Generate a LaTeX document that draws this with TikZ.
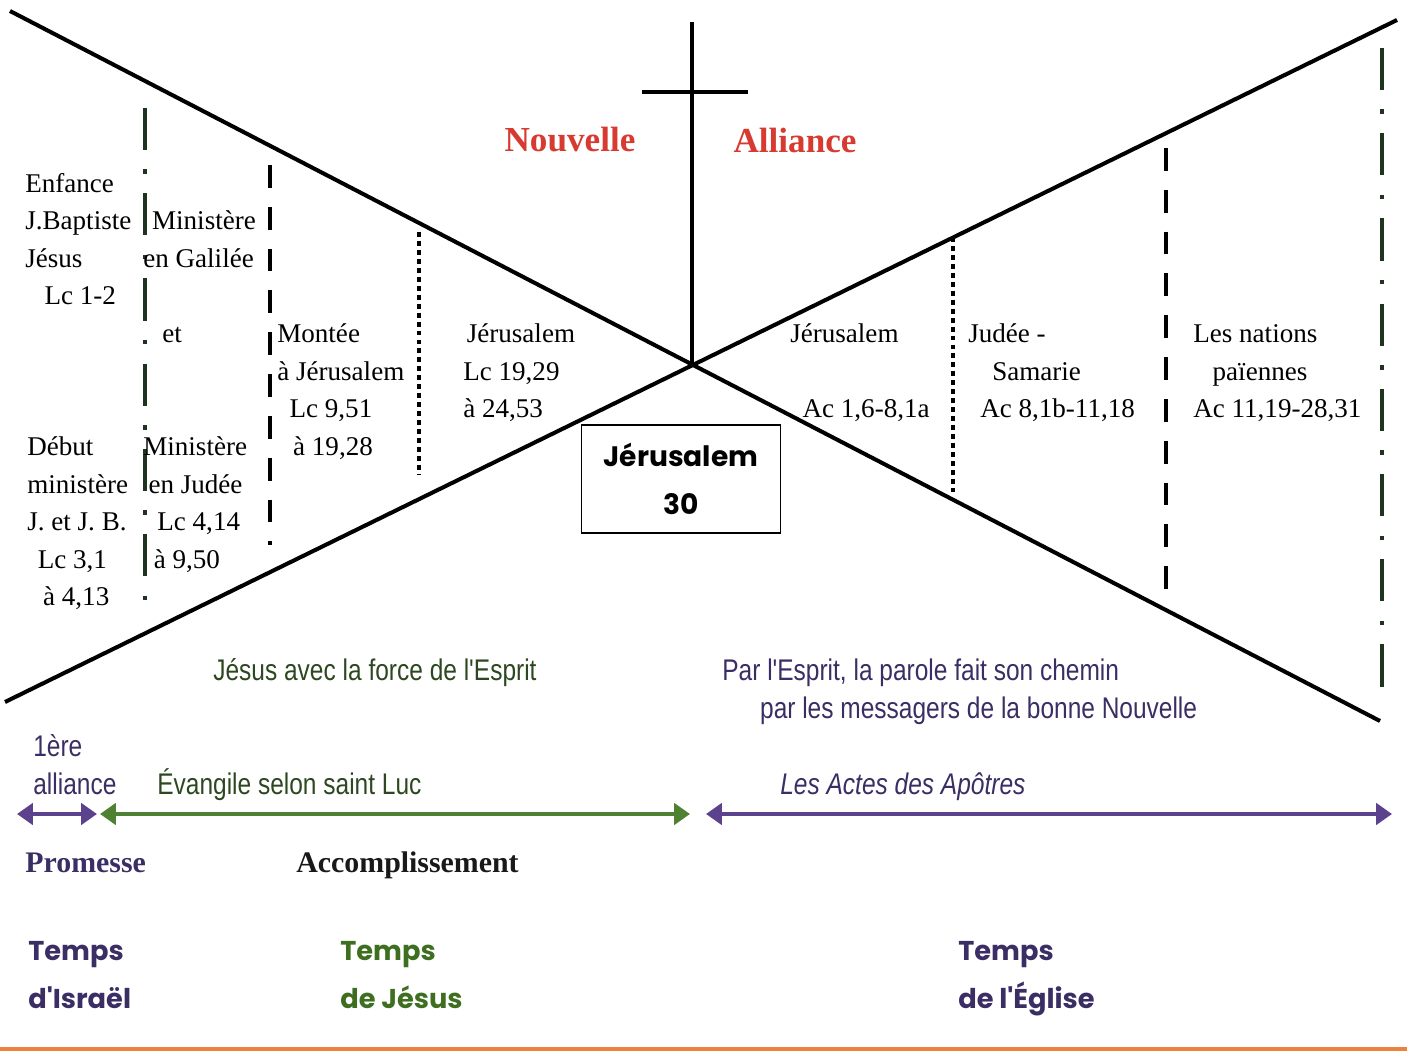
\documentclass[tikz,border=0pt]{standalone}
\usepackage{fontspec}
\setmainfont{Liberation Serif}
\newfontfamily\narrowfont[FakeStretch=0.82]{Liberation Sans}
\newfontfamily\comicfont{Poppins}
\usetikzlibrary{arrows.meta}

\definecolor{alliancered}{RGB}{214,58,48}
\definecolor{lucgreen}{RGB}{80,128,50}
\definecolor{actspurple}{RGB}{92,66,140}
\definecolor{darkpurple}{RGB}{58,46,100}
\definecolor{darkgreen}{RGB}{45,72,32}
\definecolor{jesusgreen}{RGB}{62,110,32}
\definecolor{lineorange}{RGB}{236,130,60}
\definecolor{dividergreen}{RGB}{30,52,30}

\begin{document}
\begin{tikzpicture}[x=0.02cm,y=-0.02cm]
% Diagram style (nodes sit on the baseline of their last line)
\tikzset{
    serif/.style={font=\fontsize{15.4}{21.3}\selectfont, inner sep=0pt, align=left, anchor=base west},
    narrow/.style={font=\narrowfont\fontsize{17}{21.6}\selectfont, inner sep=0pt, align=left, anchor=base west},
    comic/.style={font=\comicfont\bfseries\fontsize{15.5}{27}\selectfont, inner sep=0pt, align=left, anchor=base west},
    bigtitle/.style={font=\bfseries\fontsize{20}{24}\selectfont, text=alliancered, inner sep=0pt},
    era/.style={line width=2.8pt, {Triangle[length=9pt,width=12pt]}-{Triangle[length=9pt,width=12pt]}},
    dashdot/.style={line width=2.6pt, draw=dividergreen, dash pattern=on 24pt off 11pt on 2.5pt off 11pt},
    longdash/.style={line width=2.6pt, dash pattern=on 13pt off 10.8pt},
    squaredots/.style={line width=2.8pt, dash pattern=on 2.8pt off 2.3pt}
}
\useasboundingbox (0,0) rectangle (1407,1057);
% The two crossing lines
\coordinate (TL) at (10,11);
\coordinate (BR) at (1380,721);
\coordinate (BL) at (5,702);
\coordinate (TR) at (1397,20);
\coordinate (X) at (692,364);
\draw[line width=2.3pt] (TL) -- (BR);
\draw[line width=2.3pt] (BL) -- (TR);
% Cross
\coordinate (crossTop) at (692,22);
\coordinate (barL) at (642,92);
\coordinate (barR) at (748,92);
\draw[line width=2.8pt] (crossTop) -- (X);
\draw[line width=2.8pt] (barL) -- (barR);
\node[bigtitle] (nouvelle) at (570,140){Nouvelle};
\node[bigtitle] (alliance) at (795,140){Alliance};
% Dividers
\coordinate (d1a) at (145,108);  \coordinate (d1b) at (145,612);
\coordinate (d2a) at (270,165);  \coordinate (d2b) at (270,545);
\coordinate (d3a) at (419,232);  \coordinate (d3b) at (419,475);
\coordinate (d4a) at (953,237);  \coordinate (d4b) at (953,492);
\coordinate (d5a) at (1166,148); \coordinate (d5b) at (1166,603);
\coordinate (d6a) at (1382,48);  \coordinate (d6b) at (1382,702);
\draw[dashdot] (d1a) -- (d1b);
\draw[longdash] (d2a) -- (d2b);
\draw[squaredots] (d3a) -- (d3b);
\draw[squaredots] (d4a) -- (d4b);
\draw[longdash] (d5a) -- (d5b);
\draw[dashdot] (d6a) -- (d6b);
% Periods of Luke
\node[serif] (enfance) at (25,304.8){Enfance\\J.Baptiste\\Jésus\\\hspace*{11pt}Lc 1-2};
\node[serif] (galilee) at (143,267.2){\hspace*{5pt}Ministère\\en Galilée};
\node[serif] (et) at (162,342.4){et};
\node[serif] (debut) at (27,605.6){Début\\ministère\\J. et J. B.\\\hspace*{6pt}Lc 3,1\\\hspace*{9pt}à 4,13};
\node[serif] (judee) at (143,568){Ministère\\\hspace*{3pt}en Judée\\\hspace*{8pt}Lc 4,14\\\hspace*{6pt}à 9,50};
\node[serif] (montee) at (277,455.2){Montée\\à Jérusalem\\\hspace*{7pt}Lc 9,51\\\hspace*{9pt}à 19,28};
\node[serif] (jerlc) at (463,417.6){\hspace*{2pt}Jérusalem\\Lc 19,29\\à 24,53};
% Periods of Acts
\node[serif] (jerac) at (790,417.6){Jérusalem\\\mbox{}\\\hspace*{7pt}Ac 1,6-8,1a};
\node[serif] (samarie) at (968,417.6){Judée -\\\hspace*{13.6pt}Samarie\\\hspace*{6.8pt}Ac 8,1b-11,18};
\node[serif] (nations) at (1193,417.6){Les nations\\\hspace*{11pt}païennes\\Ac 11,19-28,31};
% Centre box
\node[draw, line width=1pt, minimum width=3.98cm, minimum height=2.16cm, align=center,
      font=\comicfont\bfseries\fontsize{16}{27}\selectfont] (jerusalem) at (681,479){Jérusalem\\30};
% Spirit texts
\node[narrow, text=darkgreen] (force) at (213,680){Jésus avec la force de l'Esprit};
\node[narrow, text=darkpurple] (parole) at (722,718){Par l'Esprit, la parole fait son chemin\\\hspace*{21.5pt}par les messagers de la bonne Nouvelle};
% Books and arrows
\node[narrow, text=darkpurple] (premiere) at (33,794){1ère\\alliance};
\node[narrow, text=darkgreen] (luc) at (157,794){Évangile selon saint Luc};
\node[narrow, text=darkpurple, font=\narrowfont\itshape\fontsize{17}{21.6}\selectfont] (actes) at (780,794){Les Actes des Apôtres};
\coordinate (a1) at (17,814);  \coordinate (a2) at (97,814);
\coordinate (b1) at (100,814); \coordinate (b2) at (690,814);
\coordinate (c1) at (706,814); \coordinate (c2) at (1392,814);
\draw[era, actspurple] (a1) -- (a2);
\draw[era, lucgreen] (b1) -- (b2);
\draw[era, actspurple] (c1) -- (c2);
\node[serif, font=\bfseries\fontsize{17}{21}\selectfont, text=darkpurple] (promesse) at (25,872){Promesse};
\node[serif, font=\bfseries\fontsize{17}{21}\selectfont, text=black!90] (accompli) at (296,872){Accomplissement};
% Times
\node[comic, text=darkpurple] (israel) at (28,1008){Temps\\d'Israël};
\node[comic, text=jesusgreen] (tjesus) at (340,1008){Temps\\de Jésus};
\node[comic, text=darkpurple] (eglise) at (958,1008){Temps\\de l'Église};
\coordinate (o1) at (0,1049);
\coordinate (o2) at (1407,1049);
\draw[line width=2.6pt, lineorange] (o1) -- (o2);
\end{tikzpicture}
\end{document}
